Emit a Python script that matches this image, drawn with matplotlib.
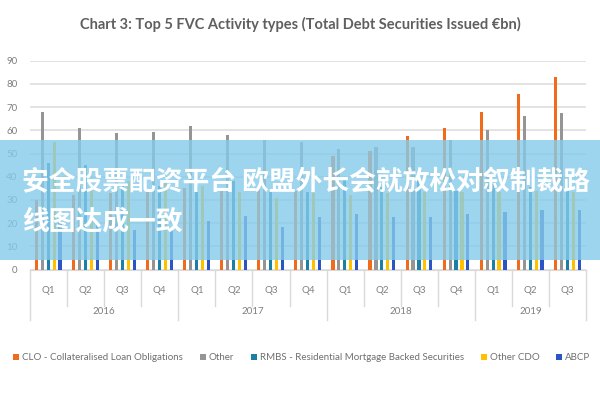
import matplotlib
matplotlib.use("Agg")
import matplotlib.pyplot as plt
from matplotlib.patches import Rectangle
from matplotlib.lines import Line2D
import numpy as np

years = ["2016", "2017", "2018", "2019"]
quarters = ["Q1", "Q2", "Q3", "Q4", "Q1", "Q2", "Q3", "Q4",
            "Q1", "Q2", "Q3", "Q4", "Q1", "Q2", "Q3"]
year_groups = [4, 4, 4, 3]

series_names = ["CLO - Collateralised Loan Obligations", "Other",
                "RMBS - Residential Mortgage Backed Securities", "Other CDO", "ABCP"]
clo = [30, 32, 33, 34, 35, 35, 35, 34, 49, 51, 57.5, 61, 68, 75.5, 83]
other = [68, 61, 59, 59.5, 62, 58, 56, 55, 52, 53, 53, 56, 60, 66, 67.5]
rmbs = [46, 45, 36, 36, 36, 38, 33.5, 33.5, 38.5, 35.5, 38.5, 34, 37, 35.5, 35.5]
other_cdo = [55, 35, 38, 38, 36, 33.5, 31, 33, 32, 33, 33.5, 33.5, 33.5, 34, 33.5]
abcp = [22, 20, 17, 18, 21, 23, 18.5, 22.5, 24, 22.5, 22.5, 24, 25, 25.5, 25.5]
colors = ["#F26B1D", "#959595", "#1B7FA6", "#FFC000", "#2B55C4"]

title = "Chart 3: Top 5 FVC Activity types (Total Debt Securities Issued €bn)"
banner_text = "安全股票配资平台 欧盟外长会就放松对叙制裁路\n线图达成一致"

plt.rcParams['font.family'] = ['Lato', 'DejaVu Sans']

fig = plt.figure(figsize=(6, 4), dpi=100)
ax = fig.add_axes([0.05, 0.326, 0.927, 0.522])

x = np.arange(len(quarters))
all_series = [clo, other, rmbs, other_cdo, abcp]
offsets = [-0.33, -0.17, -0.01, 0.15, 0.31]
handles = []
for vals, off, c, name in zip(all_series, offsets, colors, series_names):
    b = ax.bar(x + off, vals, width=0.085, color=c, label=name, zorder=3)
    handles.append(b)

ax.set_xlim(-0.5, len(quarters) - 0.5)
ax.set_ylim(0, 90)
ax.set_yticks(np.arange(0, 91, 10))
ax.tick_params(axis='y', length=0, labelsize=7, labelcolor="#7f7f7f", pad=9)
ax.set_xticks([])
ax.grid(axis='y', color="#dedede", linewidth=1.2, zorder=0)
for s in ["top", "right", "left"]:
    ax.spines[s].set_visible(False)
ax.spines["bottom"].set_color("#d9d9d9")

trans = ax.get_xaxis_transform()
sep_col = "#d9d9d9"
for i, q in enumerate(quarters):
    ax.text(i, -0.1, q, transform=trans, ha='center', va='center',
            fontsize=7, color="#7f7f7f", clip_on=False)
year_edges = np.cumsum([0] + year_groups) - 0.5
for i in range(len(quarters) + 1):
    xe = i - 0.5
    y1 = -0.24 if np.any(np.isclose(year_edges, xe)) else -0.175
    ax.add_line(Line2D([xe, xe], [0, y1], transform=trans, color=sep_col,
                       linewidth=1, clip_on=False))
for j, yr in enumerate(years):
    mid = (year_edges[j] + year_edges[j + 1]) / 2
    ax.text(mid, -0.2, yr, transform=trans, ha='center', va='center',
            fontsize=7, color="#7f7f7f", clip_on=False)

fig.text(0.5, 0.938, title, ha='center', va='center', fontsize=10.5,
         fontweight='bold', color="#5f5f5f")

fig.legend(handles=handles, labels=series_names, loc='center',
           bbox_to_anchor=(0.503, 0.105), ncol=5, frameon=False,
           fontsize=7, labelcolor="#6f6f6f", handlelength=0.6,
           handleheight=0.6, handletextpad=0.3, columnspacing=1.75)

# overlay banner
fig.patches.append(Rectangle((0, 1 - 260 / 400), 1, 120 / 400,
                             transform=fig.transFigure, facecolor="#86CBEA",
                             alpha=0.8, edgecolor='none', zorder=10))
fig.text(22 / 600, 1 - 202 / 400, banner_text, ha='left', va='center',
         fontsize=19.3, fontweight='bold', color='white', linespacing=1.5,
         family=['Noto Sans CJK SC', 'DejaVu Sans'], zorder=11)

fig.savefig("out.png", dpi=100)
